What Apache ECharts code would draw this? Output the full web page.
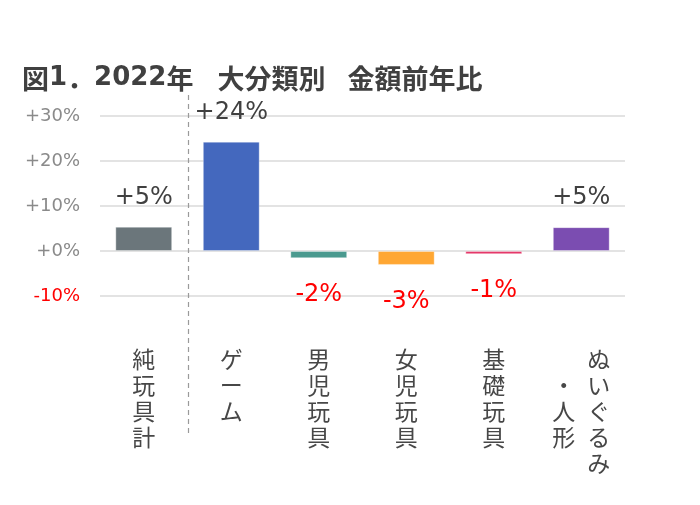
<!DOCTYPE html>
<html>
<head>
<meta charset="utf-8">
<script src="https://cdn.jsdelivr.net/npm/echarts@6/dist/echarts.min.js"></script>
<style>
  html, body { margin: 0; padding: 0; background: #fff; }
  #chart { width: 700px; height: 505px; }
</style>
</head>
<body>
<div id="chart"></div>
<script>
// categories (vertical labels, one char per line)
const categories = ["純玩具計", "ゲーム", "男児玩具", "女児玩具", "基礎玩具", "ぬいぐるみ・人形"];
// year-over-year change, %
const yoyValues = [5.4, 24.3, -1.6, -3.1, -0.7, 5.3];
const barColors = ["#6B767B", "#4468BE", "#4A9A8F", "#FFA733", "#E5396A", "#7B4DB1"];
const yTicks = [-10, 0, 10, 20, 30];

const chart = echarts.init(document.getElementById("chart"));

function fmtPct(v) {
  return (v >= 0 ? "+" : "") + v + "%";
}

const catFont = { fontFamily: "Noto Sans CJK JP", fontSize: 23, lineHeight: 26, color: "#474747" };
const titleCjk = { fontFamily: "Noto Sans CJK JP", fontSize: 27, fontWeight: "bold", color: "#404040" };
const titleNum = { fontFamily: "DejaVu Sans", fontSize: 26, fontWeight: "bold", color: "#404040" };

function verticalLabel(name) {
  if (name === "ぬいぐるみ・人形") {
    // two columns: right "ぬいぐるみ", left "・人形"
    const right = "ぬいぐるみ".split("");
    const left = ["", "・", "人", "形", ""];
    return right.map((c, i) => "{l|" + left[i] + "}{g|}{r|" + c + "}").join("\n");
  }
  return name.split("").join("\n");
}

const option = {
  animation: false,
  title: {
    text: "{c|図}{d|1}{c|．}{d|2022}{c|年}{s|}{c|大分類別}{t|}{c|金額前年比}",
    left: 17,
    top: 60,
    textStyle: {
      rich: {
        c: titleCjk,
        d: titleNum,
        s: { width: 24 },
        t: { width: 22 }
      }
    }
  },
  grid: {
    left: 100,
    right: 75,
    top: 116,
    bottom: 209
  },
  xAxis: {
    type: "category",
    data: categories,
    axisLine: { show: false },
    axisTick: { show: false },
    axisLabel: Object.assign({
      margin: 50,
      interval: 0,
      verticalAlign: "top",
      formatter: verticalLabel,
      rich: {
        l: Object.assign({ width: 23, align: "center" }, catFont),
        g: { width: 12 },
        r: Object.assign({ width: 23, align: "center" }, catFont)
      }
    }, catFont)
  },
  yAxis: {
    type: "value",
    min: yTicks[0],
    max: yTicks[yTicks.length - 1],
    interval: 10,
    axisLine: { show: false },
    axisTick: { show: false },
    splitLine: { lineStyle: { color: "#E3E3E3", width: 2 } },
    axisLabel: {
      margin: 20,
      fontFamily: "DejaVu Sans",
      fontSize: 18,
      color: (v) => (v < 0 ? "#FF0000" : "#8A8A8A"),
      formatter: (v) => fmtPct(v)
    }
  },
  series: [
    {
      type: "bar",
      barWidth: "65%",
      data: yoyValues.map((v, i) => ({
        value: v,
        itemStyle: { color: barColors[i], borderColor: "rgba(255,255,255,0.35)", borderWidth: 1 },
        label: v < 0
          ? { position: "bottom", distance: 25, color: "#FF0000" }
          : { position: "top", distance: 17, color: "#404040" }
      })),
      label: {
        show: true,
        fontFamily: "DejaVu Sans",
        fontSize: 24,
        formatter: (p) => fmtPct(Math.round(p.value))
      }
    }
  ]
};

chart.setOption(option);

// dashed separator between the total and the sub-categories
const x0 = chart.convertToPixel({ xAxisIndex: 0 }, 0);
const x1 = chart.convertToPixel({ xAxisIndex: 0 }, 1);
const sepX = Math.round((x0 + x1) / 2) + 0.5;
chart.setOption({
  graphic: [{
    type: "line",
    shape: { x1: sepX, y1: 95, x2: sepX, y2: 437 },
    style: { stroke: "#9A9A9A", lineWidth: 1.2, lineDash: [5, 4] },
    z: 10
  }]
});
</script>
</body>
</html>
